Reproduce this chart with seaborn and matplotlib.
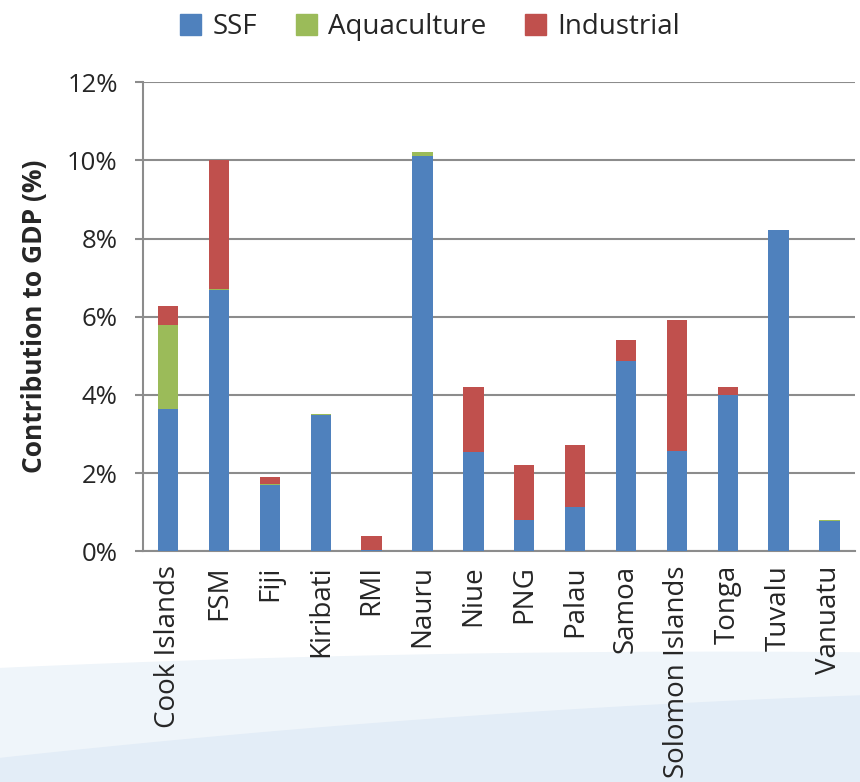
import numpy as np
import pandas as pd
import seaborn as sns
import matplotlib.pyplot as plt
from matplotlib.patches import Patch
from matplotlib.ticker import FuncFormatter, FixedLocator

sns.set_style("white")
plt.rcParams['font.family'] = ['Open Sans', 'DejaVu Sans']

countries = ["Cook Islands", "FSM", "Fiji", "Kiribati", "RMI", "Nauru", "Niue", "PNG",
             "Palau", "Samoa", "Solomon Islands", "Tonga", "Tuvalu", "Vanuatu"]
ssf = [3.63, 6.68, 1.69, 3.48, 0.04, 10.11, 2.54, 0.81, 1.13, 4.86, 2.57, 4.01, 8.21, 0.78]
aquaculture = [2.15, 0.02, 0.02, 0.02, 0.0, 0.09, 0.0, 0.0, 0.0, 0.0, 0.0, 0.0, 0.0, 0.02]
industrial = [0.5, 3.30, 0.19, 0.0, 0.35, 0.0, 1.66, 1.39, 1.58, 0.54, 3.34, 0.19, 0.0, 0.0]

colors = {"SSF": "#4f81bd", "Aquaculture": "#9bbb59", "Industrial": "#c0504d"}

df = pd.DataFrame({"country": countries, "SSF": ssf,
                   "Aquaculture": aquaculture, "Industrial": industrial})
df["lvl_ssf"] = df["SSF"]
df["lvl_aqua"] = df["SSF"] + df["Aquaculture"]
df["lvl_ind"] = df["lvl_aqua"] + df["Industrial"]

fig = plt.figure(figsize=(8.6, 7.82), dpi=100)

# decorative light blue wave in the background
bg = fig.add_axes([0, 0, 1, 1], zorder=-1)
xs = np.linspace(0, 1, 200)
bg.fill_between(xs, 0, 0.145 + 0.05 * xs - 0.03 * xs ** 2, color="#eff5fa")
bg.fill_between(xs, 0, 0.03 + 0.12 * xs - 0.04 * xs ** 2, color="#e3edf7")
bg.set_xlim(0, 1)
bg.set_ylim(0, 1)
bg.axis("off")

ax = fig.add_axes([0.166, 0.295, 0.828, 0.60])
ax.set_zorder(1)
ax.patch.set_alpha(0)

for col, key in [("lvl_ind", "Industrial"), ("lvl_aqua", "Aquaculture"), ("lvl_ssf", "SSF")]:
    sns.barplot(data=df, x="country", y=col, color=colors[key], width=0.4,
                saturation=1, ax=ax, edgecolor="none", zorder=3)

ax.set_ylim(0, 12)
ax.set_xlim(-0.5, len(countries) - 0.5)
ax.yaxis.set_major_locator(FixedLocator(np.arange(0, 13, 2)))
ax.yaxis.set_major_formatter(FuncFormatter(lambda v, p: f"{v:.0f}%"))
ax.grid(axis="y", color="#8c8c8c", linewidth=1.5, zorder=0)
ax.set_axisbelow(True)

for s in ["top", "right"]:
    ax.spines[s].set_visible(False)
for s in ["left", "bottom"]:
    ax.spines[s].set_color("#8c8c8c")
    ax.spines[s].set_linewidth(1.5)

ax.set_xticks(range(len(countries)))
ax.set_xticklabels(countries, rotation=90, fontsize=20)
ax.set_xticks(np.arange(-0.5, len(countries), 1), minor=True)
ax.tick_params(axis="x", which="major", length=0, pad=10)
ax.tick_params(axis="x", which="minor", length=7, width=1.5, color="#8c8c8c")
ax.tick_params(axis="y", length=6, width=1.5, color="#8c8c8c", labelsize=18.5, left=True, pad=12)
ax.set_xlabel("")
ax.set_ylabel("Contribution to GDP (%)", fontsize=19, fontweight="bold", labelpad=14)

handles = [Patch(color=colors[k], label=k) for k in ["SSF", "Aquaculture", "Industrial"]]
fig.legend(handles=handles, loc="upper center", bbox_to_anchor=(0.5, 1.015), ncol=3,
           frameon=False, fontsize=20, handlelength=0.75, handleheight=0.75,
           handletextpad=0.4, columnspacing=1.4)

fig.savefig("out.png", dpi=100)
